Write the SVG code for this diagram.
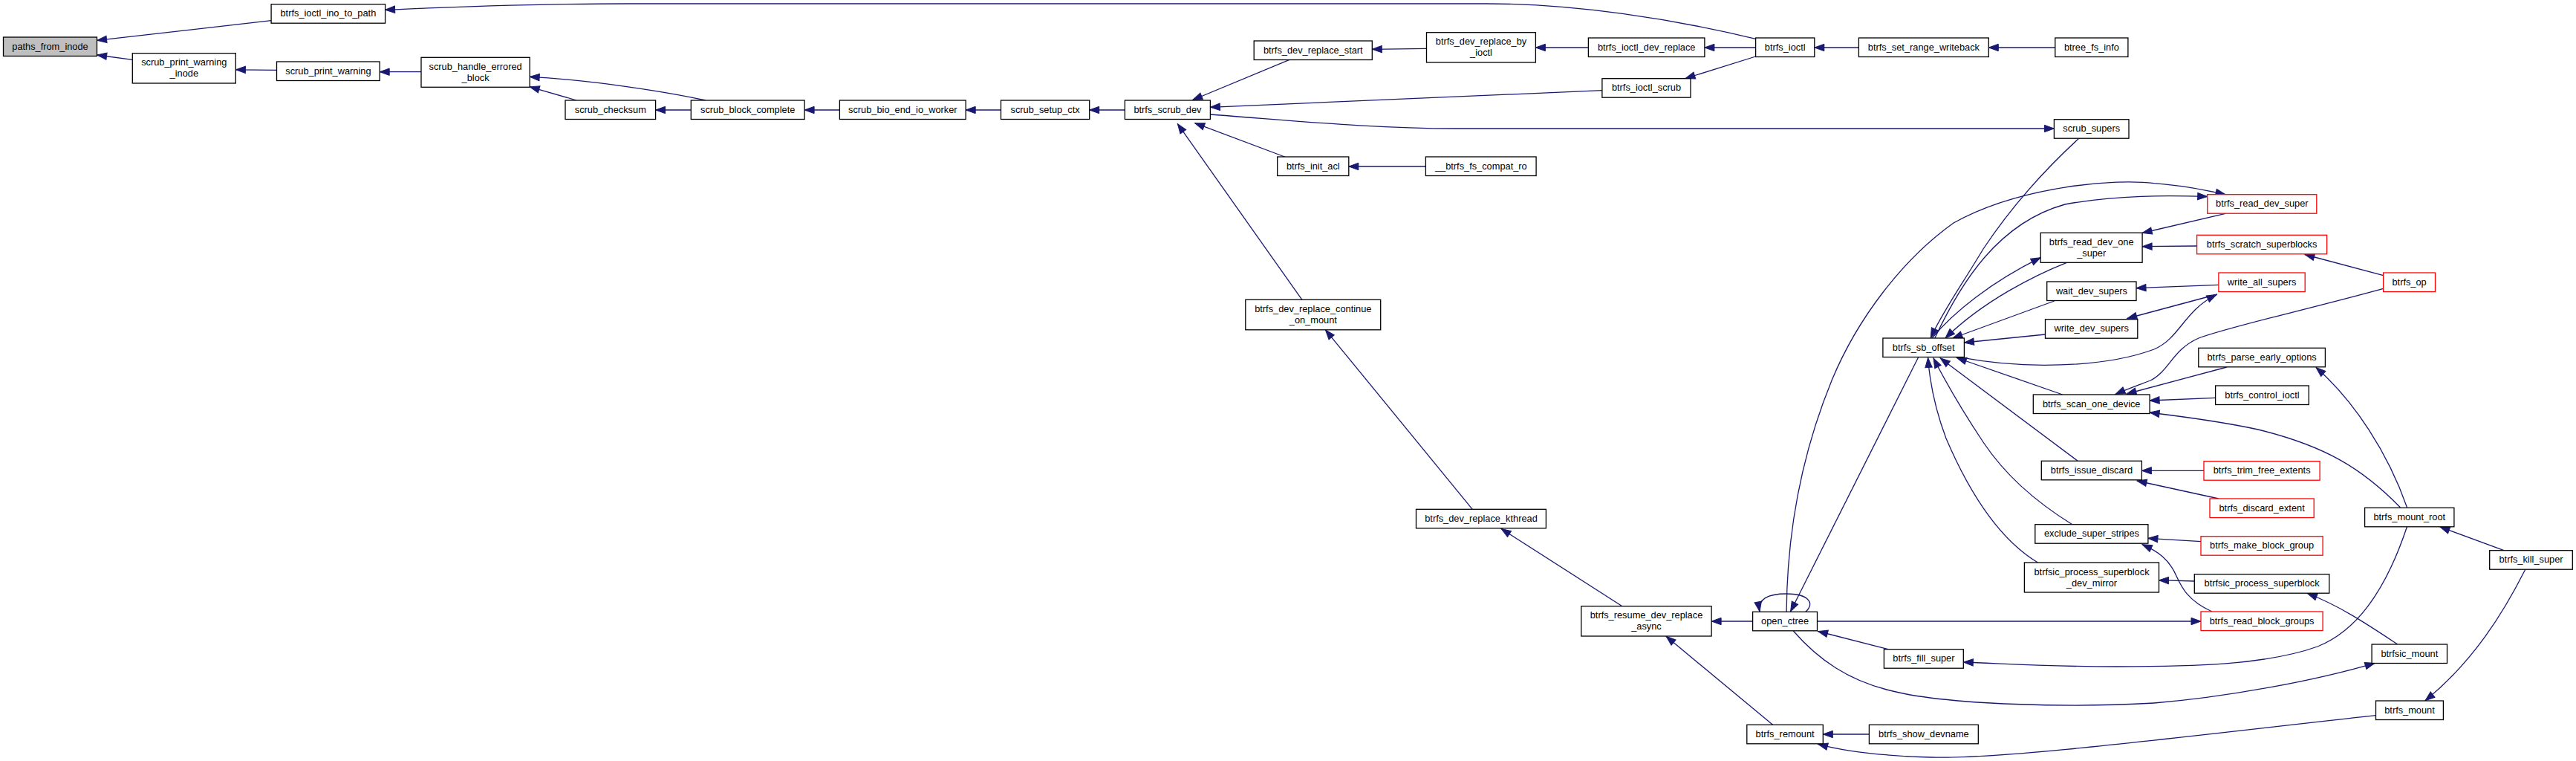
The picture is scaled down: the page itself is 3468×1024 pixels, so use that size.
<svg xmlns="http://www.w3.org/2000/svg" width="3468" height="1024" viewBox="0 0 3468 1024">
<defs>
<style>
.n rect{fill:#fff;stroke:#000;stroke-width:1.3}
.n.r rect{stroke:#ff0000}
.n.g rect{fill:#bfbfbf}
text{font-family:"Liberation Sans",Arial,Helvetica,sans-serif;font-size:12.8px;text-anchor:middle;fill:#000}
.e path{fill:none;stroke:#191970;stroke-width:1.3;marker-end:url(#a)}
</style>
<marker id="a" markerUnits="userSpaceOnUse" markerWidth="15" markerHeight="11" refX="13" refY="5" orient="auto" overflow="visible">
<path d="M0,0.3 L13,5 L0,9.7 z" fill="#191970" stroke="#191970" stroke-width="1"/>
</marker>
</defs>
<rect x="0" y="0" width="3468" height="1024" fill="#fff"/>
<g id="edges" class="e">
<path d="M365.1,27.7 L130.6,54.3"/>
<path d="M178.3,80.3 L130.6,74"/>
<path d="M372.5,94.3 L317.4,93.8"/>
<path d="M567,96.7 L511.2,96.7"/>
<path d="M949.9,135 C900,124 800,108 713.2,103.3"/>
<path d="M776,135 L713.2,116.8"/>
<path d="M930.3,148 L882.6,148"/>
<path d="M1130.4,148 L1083.1,148"/>
<path d="M1347.5,148 L1300.2,148"/>
<path d="M1514.4,148 L1466.7,148"/>
<path d="M1736,80.3 L1605.7,134.5"/>
<path d="M2156.9,121.7 L1629.4,144.3"/>
<path d="M1629.4,154 C1750,163 1850,173 1960,173 L2765.4,173"/>
<path d="M1729.6,211 L1608.7,165.7"/>
<path d="M1752.9,403.3 L1585.4,166.7"/>
<path d="M1919.4,224 L1815.8,224"/>
<path d="M1982.3,685.3 L1784.4,443.8"/>
<path d="M2183.9,815.7 L2021.1,711.5"/>
<path d="M2359.6,836 L2304.1,836"/>
<path d="M2386.6,975.3 L2243.1,856.3"/>
<path d="M2516.4,988 L2454.3,988"/>
<path d="M3198.5,962.7 C2950,990 2700,1022 2600,1019 C2530,1017 2480,1010 2447.6,1001.3"/>
<path d="M2431,823.3 C2445,810 2432,799 2405,799 C2380,799 2366,806 2369,822.8"/>
<path d="M2363.6,52.3 C2250,25 2120,5 2000,5 L850,5 C700,5 600,10 518.6,13.3"/>
<path d="M2363.6,64 L2294.9,64"/>
<path d="M2363.6,76 L2269,105.5"/>
<path d="M2502.4,64 L2442.8,64"/>
<path d="M2766.8,64 L2677.3,64"/>
<path d="M2138.4,64 L2067.4,64"/>
<path d="M1920.5,65.3 L1847.3,66.3"/>
<path d="M2986.9,383.3 L2876,387.7"/>
<path d="M2985,396 L2863.8,428.5"/>
<path d="M2643.7,481.7 C2720,496 2830,496 2900,470 C2935,455 2940,418 2984,396.5"/>
<path d="M3208.6,370.7 L3102.9,342.5"/>
<path d="M3208.6,388.3 C3100,418 3000,440 2960,455 C2925,470 2920,500 2895,512 C2885,516 2865,523 2848,530.5"/>
<path d="M2997.8,494 L2863,530"/>
<path d="M2982.6,535.3 L2894.1,539"/>
<path d="M3231.4,682.7 C3180,630 3130,600 3040,578 C2980,565 2930,560 2894.1,555"/>
<path d="M2967,633.3 L2883.4,633.3"/>
<path d="M2986.9,671 L2877,647"/>
<path d="M2963,728.7 L2891.9,724.3"/>
<path d="M2977.9,823 C2945,808 2937,790 2930,775 C2920,752 2905,742 2884.1,732.7"/>
<path d="M2954.3,782 L2906.5,780.7"/>
<path d="M3227.8,867 C3190,842 3150,815 3106.5,798.5"/>
<path d="M2446.5,836 L2963,836"/>
<path d="M2541.9,873.7 L2447.6,849.5"/>
<path d="M3240.5,708.7 C3210,800 3170,850 3120,870 C3050,895 2950,897 2850,897 C2750,897 2700,893 2643.3,891"/>
<path d="M2414.3,849 C2450,890 2490,915 2540,928 C2620,950 2800,952 2900,946 C3000,938 3120,915 3197,892.3"/>
<path d="M3399.9,766 C3370,825 3330,890 3265,942.7"/>
<path d="M3370.9,740.7 L3285,709"/>
<path d="M3240.5,682.7 C3215,610 3170,540 3118,494.5"/>
<path d="M2582.6,480.7 L2410.6,822.8"/>
<path d="M2743.5,757 C2690,725 2650,660 2620,590 C2605,550 2598,515 2595.6,481.5"/>
<path d="M2789.8,705.7 C2740,675 2700,640 2670,595 C2640,550 2620,515 2603,482"/>
<path d="M2797.2,620.3 L2612.2,482"/>
<path d="M2776.8,531 L2634.4,481.5"/>
<path d="M2799,186 C2740,240 2700,290 2670,335 C2640,385 2615,420 2599.3,454.5"/>
<path d="M2604.8,455 C2640,380 2690,300 2780,275 C2850,262 2920,263 2971.7,264.5"/>
<path d="M2405.1,823.3 C2406,700 2430,600 2466,512 C2500,430 2560,350 2630,300 C2720,250 2850,240 2900,246.7 C2940,250 2965,255 2996,261.7"/>
<path d="M2601,455 C2630,420 2680,380 2747.2,346.7"/>
<path d="M2782.4,353.3 C2740,370 2670,405 2619,455"/>
<path d="M2765.7,405 L2628.9,455"/>
<path d="M2753.5,450 L2644.4,461"/>
<path d="M2996,287.3 L2884.1,313.5"/>
<path d="M2957.6,331 L2884.1,331.7"/>
</g>
<g id="n1" class="n g"><rect x="4.5" y="50" width="126" height="25.5"/><text x="67.5" y="66.5">paths_from_inode</text></g>
<g id="n2" class="n"><rect x="365.1" y="5.7" width="153.5" height="25.5"/><text x="441.9" y="22.2">btrfs_ioctl_ino_to_path</text></g>
<g id="n3" class="n"><rect x="178.3" y="71.7" width="139" height="40.3"/><text x="247.8" y="88.2">scrub_print_warning</text><text x="247.8" y="103.2">_inode</text></g>
<g id="n4" class="n"><rect x="372.5" y="83" width="138.7" height="25.5"/><text x="441.9" y="99.5">scrub_print_warning</text></g>
<g id="n5" class="n"><rect x="567" y="77.3" width="146.2" height="40"/><text x="640.1" y="93.8">scrub_handle_errored</text><text x="640.1" y="108.8">_block</text></g>
<g id="n6" class="n"><rect x="761" y="135" width="121.6" height="25.5"/><text x="821.8" y="151.5">scrub_checksum</text></g>
<g id="n7" class="n"><rect x="930.3" y="135" width="152.8" height="25.5"/><text x="1006.7" y="151.5">scrub_block_complete</text></g>
<g id="n8" class="n"><rect x="1130.4" y="135" width="169.8" height="25.5"/><text x="1215.3" y="151.5">scrub_bio_end_io_worker</text></g>
<g id="n9" class="n"><rect x="1347.5" y="135" width="119.2" height="25.5"/><text x="1407.1" y="151.5">scrub_setup_ctx</text></g>
<g id="n10" class="n"><rect x="1514.4" y="135" width="115" height="25.5"/><text x="1571.9" y="151.5">btrfs_scrub_dev</text></g>
<g id="n11" class="n"><rect x="1688.2" y="55" width="159.1" height="25.5"/><text x="1767.8" y="71.5">btrfs_dev_replace_start</text></g>
<g id="n12" class="n"><rect x="1920.5" y="43.7" width="146.9" height="40.3"/><text x="1994" y="60.2">btrfs_dev_replace_by</text><text x="1994" y="75.2">_ioctl</text></g>
<g id="n13" class="n"><rect x="2138.4" y="51" width="156.5" height="25.5"/><text x="2216.7" y="67.5">btrfs_ioctl_dev_replace</text></g>
<g id="n14" class="n"><rect x="2156.9" y="105.7" width="119.1" height="25.5"/><text x="2216.5" y="122.2">btrfs_ioctl_scrub</text></g>
<g id="n15" class="n"><rect x="1719.7" y="211" width="96.1" height="25.5"/><text x="1767.8" y="227.5">btrfs_init_acl</text></g>
<g id="n16" class="n"><rect x="1919.4" y="211" width="148.7" height="25.5"/><text x="1993.8" y="227.5">__btrfs_fs_compat_ro</text></g>
<g id="n17" class="n"><rect x="1676.8" y="403.3" width="181.9" height="40.5"/><text x="1767.8" y="419.8">btrfs_dev_replace_continue</text><text x="1767.8" y="434.8">_on_mount</text></g>
<g id="n18" class="n"><rect x="2363.6" y="51" width="79.2" height="25.5"/><text x="2403.2" y="67.5">btrfs_ioctl</text></g>
<g id="n19" class="n"><rect x="2502.4" y="51" width="174.9" height="25.5"/><text x="2589.9" y="67.5">btrfs_set_range_writeback</text></g>
<g id="n20" class="n"><rect x="2766.8" y="51" width="98.1" height="25.5"/><text x="2815.9" y="67.5">btree_fs_info</text></g>
<g id="n21" class="n"><rect x="2765.4" y="160.7" width="100.6" height="25.5"/><text x="2815.7" y="177.2">scrub_supers</text></g>
<g id="n22" class="n"><rect x="2747.2" y="313.3" width="136.9" height="40"/><text x="2815.7" y="329.8">btrfs_read_dev_one</text><text x="2815.7" y="344.8">_super</text></g>
<g id="n23" class="n"><rect x="2755.7" y="379" width="120.3" height="25.5"/><text x="2815.9" y="395.5">wait_dev_supers</text></g>
<g id="n24" class="n"><rect x="2753.5" y="429.7" width="124.3" height="25.5"/><text x="2815.7" y="446.2">write_dev_supers</text></g>
<g id="n25" class="n"><rect x="2534.9" y="455" width="109.5" height="25.5"/><text x="2589.7" y="471.5">btrfs_sb_offset</text></g>
<g id="n26" class="n r"><rect x="2971.7" y="261.7" width="147.1" height="25.5"/><text x="3045.3" y="278.2">btrfs_read_dev_super</text></g>
<g id="n27" class="n r"><rect x="2957.6" y="316.3" width="175" height="25.5"/><text x="3045.1" y="332.8">btrfs_scratch_superblocks</text></g>
<g id="n28" class="n r"><rect x="2986.9" y="367" width="116.3" height="25.5"/><text x="3045.1" y="383.5">write_all_supers</text></g>
<g id="n29" class="n r"><rect x="3208.6" y="367" width="69.9" height="25.5"/><text x="3243.6" y="383.5">btrfs_op</text></g>
<g id="n30" class="n"><rect x="2959.8" y="468.3" width="170.6" height="25.5"/><text x="3045.1" y="484.8">btrfs_parse_early_options</text></g>
<g id="n31" class="n"><rect x="1906.5" y="685.3" width="174.9" height="25.5"/><text x="1994" y="701.8">btrfs_dev_replace_kthread</text></g>
<g id="n32" class="n"><rect x="2128.8" y="815.7" width="175.3" height="40.3"/><text x="2216.5" y="832.2">btrfs_resume_dev_replace</text><text x="2216.5" y="847.2">_async</text></g>
<g id="n33" class="n"><rect x="2737.3" y="531" width="156.8" height="25.5"/><text x="2815.7" y="547.5">btrfs_scan_one_device</text></g>
<g id="n34" class="n"><rect x="2748.3" y="620.3" width="135.1" height="25.5"/><text x="2815.9" y="636.8">btrfs_issue_discard</text></g>
<g id="n35" class="n"><rect x="2739.8" y="705.7" width="152.1" height="25.5"/><text x="2815.9" y="722.2">exclude_super_stripes</text></g>
<g id="n36" class="n"><rect x="2725.4" y="757" width="181.1" height="40"/><text x="2816" y="773.5">btrfsic_process_superblock</text><text x="2816" y="788.5">_dev_mirror</text></g>
<g id="n37" class="n"><rect x="2359.6" y="823.3" width="86.9" height="25.5"/><text x="2403.1" y="839.8">open_ctree</text></g>
<g id="n38" class="n"><rect x="2536.4" y="873.7" width="106.9" height="25.5"/><text x="2589.9" y="890.2">btrfs_fill_super</text></g>
<g id="n39" class="n"><rect x="2351.8" y="975.3" width="102.5" height="25.5"/><text x="2403.1" y="991.8">btrfs_remount</text></g>
<g id="n40" class="n"><rect x="2516.4" y="975.3" width="146.9" height="25.5"/><text x="2589.9" y="991.8">btrfs_show_devname</text></g>
<g id="n41" class="n"><rect x="2982.6" y="519" width="125.7" height="25.5"/><text x="3045.5" y="535.5">btrfs_control_ioctl</text></g>
<g id="n42" class="n r"><rect x="2967" y="620.7" width="156.1" height="25.5"/><text x="3045.1" y="637.2">btrfs_trim_free_extents</text></g>
<g id="n43" class="n r"><rect x="2975" y="671" width="140.2" height="25.5"/><text x="3045.1" y="687.5">btrfs_discard_extent</text></g>
<g id="n44" class="n r"><rect x="2963" y="721.7" width="164.1" height="25.5"/><text x="3045.1" y="738.2">btrfs_make_block_group</text></g>
<g id="n45" class="n"><rect x="2954.3" y="772.7" width="181.5" height="25.5"/><text x="3045.1" y="789.2">btrfsic_process_superblock</text></g>
<g id="n46" class="n r"><rect x="2963" y="823" width="164.1" height="25.5"/><text x="3045.1" y="839.5">btrfs_read_block_groups</text></g>
<g id="n47" class="n"><rect x="3183.6" y="683.3" width="120.3" height="25.5"/><text x="3243.8" y="699.8">btrfs_mount_root</text></g>
<g id="n48" class="n"><rect x="3351.7" y="740.7" width="111.6" height="25.5"/><text x="3407.5" y="757.2">btrfs_kill_super</text></g>
<g id="n49" class="n"><rect x="3193.1" y="867" width="101.4" height="25.5"/><text x="3243.8" y="883.5">btrfsic_mount</text></g>
<g id="n50" class="n"><rect x="3198.5" y="943" width="90.9" height="25.5"/><text x="3244" y="959.5">btrfs_mount</text></g>
</svg>
